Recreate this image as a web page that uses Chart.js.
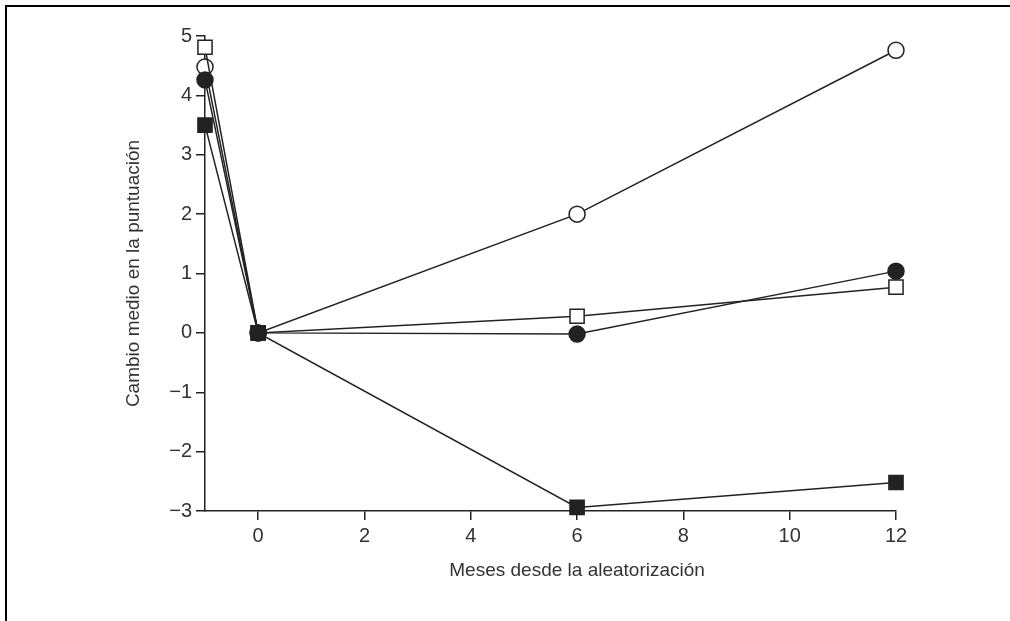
<!DOCTYPE html>
<html>
<head>
<meta charset="utf-8">
<script src="https://cdn.jsdelivr.net/npm/chart.js@4.4.1/dist/chart.umd.min.js"></script>
<style>
  html, body { margin: 0; padding: 0; background: #fff; }
  #wrap { position: relative; width: 1010px; height: 621px; }
</style>
</head>
<body>
<div id="wrap"><canvas id="c" width="1010" height="621"></canvas></div>
<script>
const months = [-1, 0, 6, 12];
const xTicks = [0, 2, 4, 6, 8, 10, 12];
const filledSquare = [3.5, 0, -2.94, -2.52];
const filledCircle = [4.26, 0, -0.02, 1.04];
const openSquare = [4.81, 0, 0.28, 0.77];
const openCircle = [4.48, 0, 2.0, 4.76];
const xTitle = 'Meses desde la aleatorización';
const yTitle = 'Cambio medio en la puntuación';

const FONT = "'Liberation Sans Narrow', 'Arial Narrow', 'Liberation Sans', sans-serif";
const INK = '#222';
const TEXT = '#333';

function pts(vals) { return months.map((m, i) => ({ x: m, y: vals[i] })); }

function ds(vals, style, fill, r) {
  return {
    data: pts(vals),
    borderColor: INK,
    borderWidth: 1.5,
    pointStyle: style,
    pointRadius: r,
    pointHoverRadius: r,
    pointBackgroundColor: fill,
    pointBorderColor: INK,
    pointBorderWidth: 1.5,
    fill: false,
    tension: 0,
    clip: false
  };
}

const framePlugin = {
  id: 'frame',
  beforeDraw(chart) {
    const ctx = chart.ctx;
    ctx.save();
    ctx.fillStyle = '#000';
    ctx.fillRect(5, 5, 1005, 2);
    ctx.fillRect(5, 5, 2, 616);
    ctx.restore();
  },
  afterDraw(chart) {
    // x-axis title, placed slightly right of the axis centre as in the original
    const ctx = chart.ctx;
    const xs = chart.scales.x;
    ctx.save();
    ctx.fillStyle = TEXT;
    ctx.font = '19px ' + FONT;
    ctx.textAlign = 'center';
    ctx.textBaseline = 'middle';
    ctx.fillText(xTitle, xs.getPixelForValue(6), 571);
    ctx.restore();
  }
};

new Chart(document.getElementById('c'), {
  type: 'line',
  data: {
    datasets: [
      ds(filledSquare, 'rect', INK, 10),
      ds(filledCircle, 'circle', INK, 8),
      ds(openSquare, 'rect', '#fff', 10),
      ds(openCircle, 'circle', '#fff', 8)
    ]
  },
  options: {
    responsive: false,
    animation: false,
    events: [],
    layout: { padding: { left: 122, right: 114, top: 36, bottom: 38 } },
    plugins: { legend: { display: false }, tooltip: { enabled: false } },
    scales: {
      x: {
        type: 'linear',
        min: -1, max: 12,
        afterBuildTicks(scale) { scale.ticks = xTicks.map(v => ({ value: v })); },
        afterFit(scale) { scale.height = 72; },
        border: { display: true, color: INK, width: 1.5 },
        grid: { drawOnChartArea: false, drawTicks: true, tickLength: 9, color: INK, lineWidth: 1.5 },
        ticks: { color: TEXT, font: { family: FONT, size: 20 }, padding: 4, maxRotation: 0 },
        title: { display: false, text: xTitle }
      },
      y: {
        type: 'linear',
        min: -3, max: 5,
        afterFit(scale) { scale.width = 83; },
        border: { display: true, color: INK, width: 1.5 },
        grid: { drawOnChartArea: false, drawTicks: true, tickLength: 9, color: INK, lineWidth: 1.5 },
        ticks: {
          stepSize: 1,
          color: TEXT,
          font: { family: FONT, size: 20 },
          padding: 4,
          callback: v => String(v).replace('-', '\u2212')
        },
        title: { display: true, text: yTitle, color: TEXT, font: { family: FONT, size: 19 }, padding: { top: 0, bottom: 0 } }
      }
    }
  },
  plugins: [framePlugin]
});
</script>
</body>
</html>
